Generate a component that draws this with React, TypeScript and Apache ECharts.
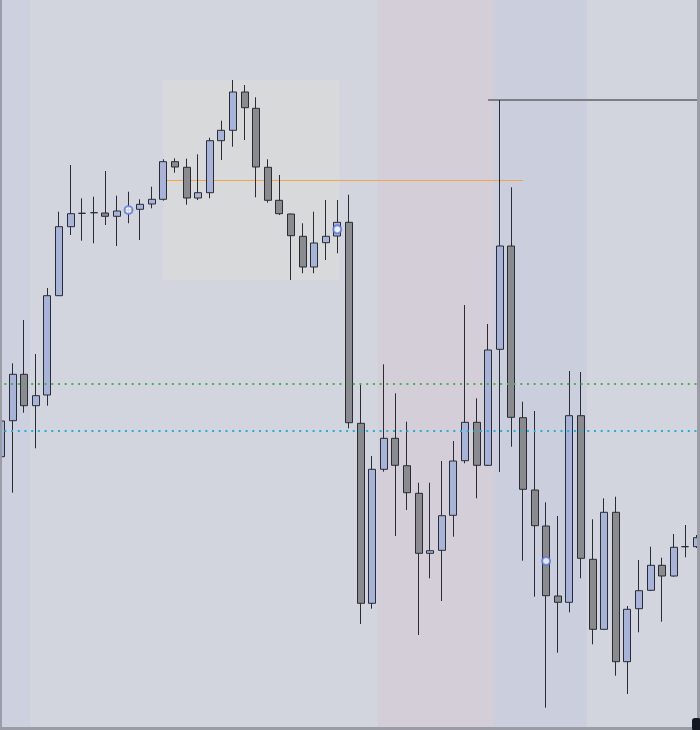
import React, { useEffect, useRef } from "react";
import * as echarts from "echarts";

// Candle values (price units, higher = up)
const opens = [273.3, 309.3, 355.7, 324.3, 335, 434.3, 503.3, 516.7, 517.3, 517, 513.7, 520, 520.7, 526, 530.7, 568.3, 562.7, 532, 537.3, 589.3, 599.7, 638, 621.7, 562.7, 529.7, 516, 493.7, 463, 487.3, 494, 507.7, 306.7, 126.7, 260.7, 291.7, 264.3, 236.7, 176.7, 179.7, 214.7, 269.3, 307.7, 264.7, 380.7, 484, 312.3, 240, 204, 134, 127.7, 314.3, 170.7, 100.7, 217.7, 68.3, 121.3, 139.7, 164.7, 154, 183.3, 183.3];
const closes = [309, 355.7, 324.3, 334.3, 434.3, 503.3, 516.3, 516.7, 517.3, 513.7, 519, 520, 525.7, 530.7, 568.3, 563, 532, 537.3, 589.3, 599.7, 638, 622.3, 563, 529.7, 516.3, 494.3, 463, 487, 493.7, 507.7, 307.3, 126.7, 260.7, 291.7, 264.7, 237.3, 176.7, 179.3, 214.3, 269, 307.7, 264.7, 380, 484, 312.7, 240.7, 204.3, 134.3, 127.7, 314.3, 171.7, 100.7, 217.7, 68.3, 120.7, 139.3, 164.7, 154, 182.7, 183.3, 192.3];
const lows = [229, 237.3, 317.3, 281.7, 324.3, 434, 495, 489.3, 486.7, 505, 484, 506.7, 490, 521.7, 529.3, 557.3, 525.3, 530, 531.7, 570, 583.3, 590, 532.7, 527.3, 515, 450, 456.7, 456.7, 470, 476.7, 301.7, 106, 121.3, 258.3, 194, 220, 95, 151.7, 129, 193.3, 266.7, 231.7, 264, 258, 283.3, 169.3, 133.3, 22.3, 77.3, 117.7, 151.7, 85.7, 100, 54.3, 36, 97.7, 139, 108.3, 153.3, 172.7, 182];
const highs = [343.3, 366.7, 410, 376, 442, 518.3, 565, 531.7, 533.3, 559, 534.3, 538.3, 530.7, 543.3, 570.7, 571.7, 571.3, 575.7, 592.3, 609.3, 650, 645, 632.7, 570.7, 555, 516.5, 506.7, 518.3, 530, 530, 535.3, 346.7, 274, 365.7, 336.7, 308.3, 247.3, 247.3, 269, 289, 425, 331.7, 406, 630, 542.7, 328.3, 319, 227.7, 214, 359, 358, 210.7, 231.7, 233.3, 124, 170, 183.3, 172.3, 196, 205, 195];
const categories = opens.map((_, i) => String(i + 1));

// Circle markers: [candle index, price]
const circleMarks = [[11, 520], [29, 500.7], [47, 169]];

// Horizontal levels
const resistanceLevel = 630; // gray solid, from candle 42 onward
const midLevel = 549.5; // orange, candle 14 to 45
const greenLevel = 346; // green dotted
const cyanLevel = 299.5; // cyan dotted

// Shaded zones [fromIndex, toIndex]
const leftZone = [-0.5, 2.5];
const pinkZone = [32.5, 42.5];
const blueZone = [42.5, 50.5];
const boxZone = [14, 29.2, 450, 650];

const SHIFT = 10;

export default function App() {
  const ref = useRef<HTMLDivElement>(null);
  useEffect(() => {
    if (!ref.current) return;
    const chart = echarts.init(ref.current, undefined, { renderer: "svg" });
    const n = categories.length;
    const candleData = opens.map((o, i) => [o, closes[i], lows[i], highs[i]]);
    const xMax = n - 0.5;
    const band = (a: number[], color: string) => [
      { coord: [a[0], 0], itemStyle: { color } },
      { coord: [a[1], 730] },
    ];
    chart.setOption({
      animation: false,
      backgroundColor: "#d2d5de",
      grid: { left: SHIFT - 4.9, top: 0, width: 11.6 * n, height: 730 },
      xAxis: [
        { type: "category", data: categories, show: false, boundaryGap: true },
        { type: "value", min: -0.5, max: xMax, show: false, splitLine: { show: false } },
      ],
      yAxis: { type: "value", min: 0, max: 730, show: false, splitLine: { show: false } },
      series: [
        {
          type: "line",
          xAxisIndex: 1,
          data: [],
          silent: true,
          markArea: {
            silent: true,
            z: 1,
            data: [
              band(leftZone, "#cdd0de"),
              band(pinkZone, "#d3ced7"),
              band(blueZone, "#cbcfdd"),
              [
                { coord: [boxZone[0], boxZone[2]], itemStyle: { color: "#d8d9db" } },
                { coord: [boxZone[1], boxZone[3]] },
              ],
            ],
          },
          markLine: {
            silent: true,
            z: 1.5,
            symbol: "none",
            label: { show: false },
            data: [
              [
                { coord: [14, midLevel], lineStyle: { color: "#f2a54a", width: 1, type: "solid" } },
                { coord: [45, midLevel] },
              ],
              [
                { coord: [42, resistanceLevel], lineStyle: { color: "#7c7e86", width: 2, type: "solid" } },
                { coord: [xMax, resistanceLevel] },
              ],
            ],
          },
        },
        {
          type: "candlestick",
          data: candleData,
          barWidth: 7.5,
          z: 2,
          itemStyle: {
            color: "#a8b3d9",
            color0: "#8a8b8f",
            borderColor: "#2a2c33",
            borderColor0: "#2a2c33",
            borderWidth: 1,
          },
        },
        {
          type: "scatter",
          xAxisIndex: 1,
          data: circleMarks,
          z: 6,
          symbol: "emptyCircle",
          symbolSize: 8,
          itemStyle: { color: "#5b78e2", borderWidth: 1.3 },
          markLine: {
            silent: true,
            z: 5,
            symbol: "none",
            label: { show: false },
            data: [
              [
                { coord: [0.3, greenLevel], lineStyle: { color: "#4caf50", width: 2, type: [2, 4.7] } },
                { coord: [xMax, greenLevel] },
              ],
              [
                { coord: [0.3, cyanLevel], lineStyle: { color: "#22b0d6", width: 2, type: [2, 4.7] } },
                { coord: [xMax, cyanLevel] },
              ],
            ],
          },
        },
      ],
      graphic: [
        { type: "rect", left: SHIFT, top: 0, shape: { width: 2, height: 730 }, style: { fill: "#9a9ca6" }, z: 100 },
        { type: "rect", left: SHIFT + 697, top: 0, shape: { width: 3, height: 730 }, style: { fill: "#9a9ca6" }, z: 100 },
        { type: "rect", left: SHIFT, top: 727, shape: { width: 700, height: 3 }, style: { fill: "#9a9ca6" }, z: 100 },
        { type: "rect", left: SHIFT + 692, top: 718, shape: { width: 9, height: 13, r: 3 }, style: { fill: "#131722" }, z: 101 },
      ],
    });
    return () => chart.dispose();
  }, []);
  return (
    <div style={{ position: "absolute", left: 0, top: 0, width: 700, height: 730, overflow: "hidden" }}>
      <div
        ref={ref}
        style={{ position: "absolute", left: -SHIFT, top: 0, width: 700 + 2 * SHIFT, height: 730 }}
      />
    </div>
  );
}
